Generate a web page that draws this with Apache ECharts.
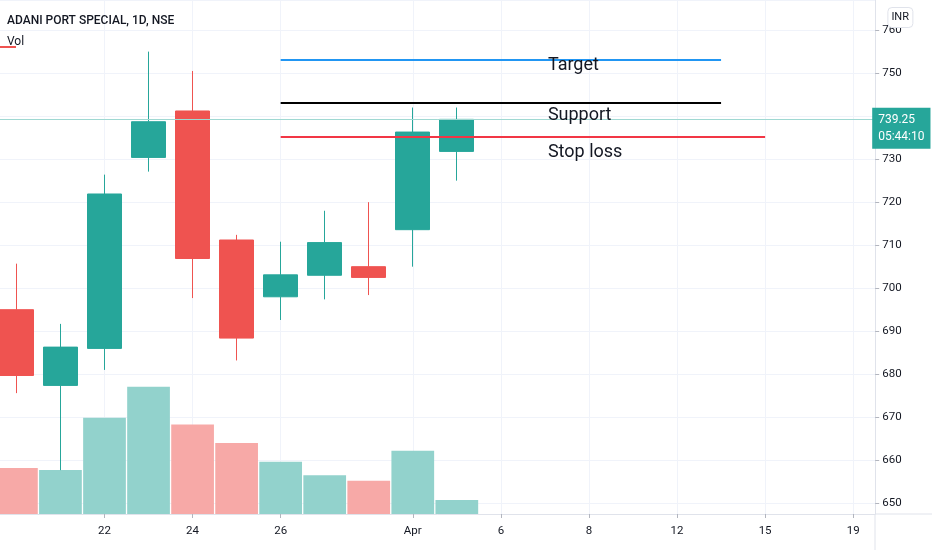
<!DOCTYPE html>
<html>
<head>
<meta charset="utf-8">
<script src="https://cdn.jsdelivr.net/npm/echarts@6/dist/echarts.min.js"></script>
<style>
html,body{margin:0;padding:0;background:#fff;}
#chart{width:932px;height:550px;}
</style>
</head>
<body>
<div id="chart"></div>
<script>
// ---- data ----
const categories = ['2021-03-18','2021-03-19','2021-03-22','2021-03-23','2021-03-24','2021-03-25','2021-03-26','2021-03-30','2021-03-31','2021-04-01','2021-04-05','2021-04-06','2021-04-07','2021-04-08','2021-04-09','2021-04-12','2021-04-13','2021-04-15','2021-04-16','2021-04-19'];
const opens  = [695.0, 677.4, 686.0, 730.4, 741.2, 711.2, 698.0, 703.0, 705.0, 713.6, 731.8];
const closes = [679.7, 686.3, 721.9, 738.7, 706.9, 688.4, 703.1, 710.6, 702.5, 736.3, 739.25];
const lows   = [675.6, 657.7, 681.0, 727.1, 697.7, 683.2, 692.6, 697.4, 698.4, 705.0, 725.0];
const highs  = [705.7, 691.7, 726.4, 755.0, 750.5, 712.4, 710.8, 718.0, 720.0, 742.0, 742.0];
const volumes = [4.6, 4.4, 9.63, 12.73, 8.95, 7.1, 5.23, 3.87, 3.33, 6.33, 1.4];

const tickDates = ['2021-03-22','2021-03-24','2021-03-26','2021-04-01','2021-04-06','2021-04-08','2021-04-12','2021-04-15','2021-04-19'];
const tickTexts = ['22','24','26','Apr','6','8','12','15','19'];

const levelNames  = ['Target','Support','Stop loss'];
const levelValues = [753.1, 743.1, 735.2];
const levelStart  = ['2021-03-26','2021-03-26','2021-03-26'];
const levelEnd    = ['2021-04-13','2021-04-13','2021-04-15'];
const levelLabelAt = '2021-04-07';

const titleText = 'ADANI PORT SPECIAL, 1D, NSE';
const volText = 'Vol';
const currencyText = 'INR';
const countdownText = '05:44:10';

// ---- styles ----
const UP = '#26a69a', DOWN = '#ef5350';
const UP_VOL = '#92d2cc', DOWN_VOL = '#f7a9a7';
const FONT = "Roboto,'Liberation Sans',sans-serif";
const levelColors = ['#2196f3', '#000000', '#f23645'];
const levelLabelOffsets = [6, 13, 16];

const candleData = opens.map((o, i) => [o, closes[i], lows[i], highs[i]]);
const volData = volumes.map((v, i) => ({
  value: v,
  itemStyle: { color: closes[i] >= opens[i] ? UP_VOL : DOWN_VOL }
}));
const lastClose = closes[closes.length - 1];
const isTick = (idx, val) => tickDates.indexOf(val) >= 0;

const chart = echarts.init(document.getElementById('chart'), null, { renderer: 'canvas' });
chart.setOption({
  animation: false,
  backgroundColor: '#ffffff',
  textStyle: { fontFamily: FONT },
  title: [
    { text: titleText, left: 7, top: 15, padding: 0,
      textStyle: { fontSize: 12, fontWeight: 500, color: '#131722', fontFamily: FONT } },
    { text: volText, left: 7, top: 36, padding: 0,
      textStyle: { fontSize: 12, fontWeight: 'normal', color: '#131722', fontFamily: FONT } },
    { text: currencyText, right: 19, top: 7, padding: [5, 4, 5, 4],
      backgroundColor: '#ffffff', borderColor: '#e0e3eb', borderWidth: 1, borderRadius: 4,
      textStyle: { fontSize: 11, fontWeight: 'normal', color: '#131722', fontFamily: FONT } }
  ],
  grid: { left: -5.6, right: 56.8, top: 0, bottom: 36, containLabel: false, outerBoundsMode: 'none' },
  xAxis: {
    type: 'category',
    data: categories,
    boundaryGap: true,
    axisLine: { show: true, lineStyle: { color: '#e0e3eb', width: 1 } },
    axisTick: { show: true, alignWithLabel: true, interval: isTick, length: 4, lineStyle: { color: '#b2b5be' } },
    axisLabel: {
      interval: isTick, margin: 11, fontSize: 11.5, color: '#131722', fontFamily: FONT,
      formatter: (val) => { const k = tickDates.indexOf(val); return k >= 0 ? tickTexts[k] : ''; }
    },
    splitLine: { show: true, interval: isTick, alignWithLabel: true, lineStyle: { color: '#f0f3fa', width: 1 } }
  },
  yAxis: [
    {
      type: 'value', position: 'right', scale: true,
      min: 647.5, max: 767, splitNumber: 12,
      axisLine: { show: true, lineStyle: { color: '#e0e3eb' } },
      axisTick: { show: true, length: 4, lineStyle: { color: '#b2b5be' } },
      axisLabel: { showMinLabel: false, showMaxLabel: false, margin: 7, fontSize: 11.5, color: '#131722', fontFamily: FONT },
      splitLine: { show: true, lineStyle: { color: '#f0f3fa', width: 1 } }
    },
    { type: 'value', show: false, min: 0, max: 51.4, splitLine: { show: false } }
  ],
  series: [
    {
      name: 'Vol', type: 'bar', yAxisIndex: 1, data: volData,
      barCategoryGap: '3%', z: 1, silent: true
    },
    {
      name: 'Price', type: 'candlestick', yAxisIndex: 0, data: candleData,
      barWidth: '78%', z: 3,
      itemStyle: { color: UP, color0: DOWN, borderColor: UP, borderColor0: DOWN, borderWidth: 1 },
      markLine: {
        silent: true, symbol: ['none', 'none'], animation: false,
        data: [
          {
            yAxis: lastClose,
            lineStyle: { color: '#9fd8d2', type: 'solid', width: 1 },
            label: {
              show: true, position: 'end', distance: 0, offset: [-3, 9],
              formatter: lastClose.toFixed(2) + '\n' + countdownText,
              backgroundColor: UP, color: '#ffffff', fontSize: 12, lineHeight: 17,
              padding: [4, 6, 3, 6], fontFamily: FONT
            }
          }
        ].concat(levelNames.map((n, i) => [
          { coord: [levelStart[i], levelValues[i]], lineStyle: { color: levelColors[i], width: 2, type: 'solid' }, label: { show: false } },
          { coord: [levelEnd[i], levelValues[i]] }
        ]))
      },
      markPoint: {
        silent: true, symbol: 'circle', symbolSize: 0, animation: false,
        itemStyle: { color: 'transparent' },
        label: { show: true, position: 'right', distance: 3, formatter: '{b}', fontSize: 18, color: '#131722', fontFamily: FONT },
        data: levelNames.map((n, i) => ({
          name: n, coord: [levelLabelAt, levelValues[i]],
          label: { offset: [0, levelLabelOffsets[i]] }
        }))
      }
    }
  ],
  graphic: [
    { type: 'rect', shape: { x: 0, y: 46, width: 16, height: 2 }, style: { fill: DOWN }, z: 10 },
    { type: 'line', shape: { x1: 875, y1: 514, x2: 932, y2: 514 }, style: { stroke: '#e0e3eb', lineWidth: 1 } },
    { type: 'line', shape: { x1: 875, y1: 514, x2: 875, y2: 550 }, style: { stroke: '#e0e3eb', lineWidth: 1 } }
  ]
});
</script>
</body>
</html>
